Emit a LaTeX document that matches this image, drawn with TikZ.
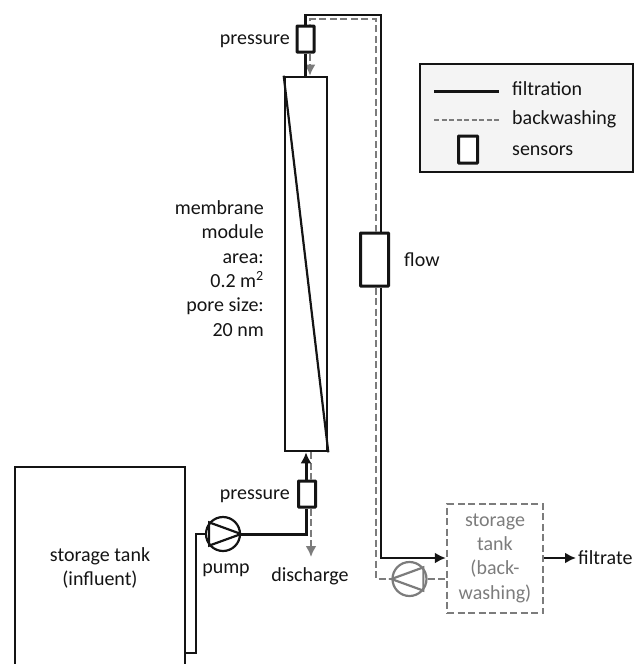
\documentclass[tikz,border=0pt]{standalone}
\usepackage{fontspec}
\setmainfont{Carlito}
\usetikzlibrary{arrows.meta}
\definecolor{washgray}{HTML}{7C7C7C}
\definecolor{legendfill}{HTML}{F4F4F4}
\definecolor{inkblack}{HTML}{141414}
\tikzset{
 lbl/.style={inner sep=0pt,text=inkblack,font=\fontsize{20}{24.4}\selectfont},
 sensor/.style={draw=inkblack,fill=white,line width=3pt,rounded corners=.6pt,inner sep=0pt},
 filt/.style={draw=inkblack,line width=3pt},
 filtthin/.style={draw=inkblack,line width=2.3pt},
 wash/.style={draw=washgray,line width=2.4pt,dash pattern=on 7pt off 3.5pt},
 pumpc/.style={circle,draw,line width=2.2pt,minimum size=34pt,inner sep=0pt},
 tip/.style={-{Latex[length=11pt,width=11pt]}}
}
\begin{document}
\begin{tikzpicture}[x=1pt,y=-1pt,line join=miter]
\useasboundingbox (0,0) rectangle (644,664);
% tanks and module
\draw[inkblack,line width=2.4pt] (15,664)|-(185,467)--(185,664);
\node[lbl,align=center] (tank) at (100,568) {storage tank\\(influent)};
\node[draw=inkblack,line width=2.6pt,minimum width=42pt,minimum height=374pt,inner sep=0pt] (module) at (306,264) {};
\draw[inkblack,line width=2.2pt] (module.north west)--(module.south east);
\node[lbl,align=right,anchor=east] (modtext) at (264,268.5) {membrane\\module\\area:\\0.2 m\textsuperscript{2}\\pore size:\\20 nm};
\node[draw=washgray,line width=2.4pt,dash pattern=on 7pt off 3.5pt,minimum width=96pt,minimum height=109pt,inner sep=0pt] (washtank) at (495,558.5) {};
\node[lbl,text=washgray,align=center] (washtext) at (495,558) {storage\\tank\\(back-\\washing)};
% sensors
\node[sensor,minimum width=17pt,minimum height=26pt] (ptop) at (305.5,39) {};
\node[sensor,minimum width=17pt,minimum height=26pt] (pbot) at (307,494) {};
\node[sensor,minimum width=28pt,minimum height=53pt] (flow) at (374.5,259.5) {};
% pumps
\node[pumpc,draw=inkblack] (pump) at (223,534) {};
\draw[inkblack,line width=2.2pt] (pump.140)--(pump.east)--(pump.220)--cycle;
\node[pumpc,draw=washgray] (pumpw) at (409.5,579) {};
\draw[washgray,line width=2.2pt] (pumpw.40)--(pumpw.west)--(pumpw.-40)--cycle;
% free ends
\coordinate (topin) at (305.5,15);
\coordinate (topout) at (381,15);
\coordinate (washin) at (310,19);
\coordinate (washout) at (376,19);
\coordinate (washlow) at (376,579);
\coordinate (filtlow) at (381,558);
\coordinate (dis) at (311,557);
\coordinate (suck) at (196,534);
\coordinate (tankout) at (185,653);
\coordinate (elbow) at (196,653);
\coordinate (rise) at (306,534);
\coordinate (filtend) at (576,558);
% backwashing
\draw[wash] (flow.north-|washout)--(washout)--(washin)--(ptop.north-|washin);
\draw[wash,tip] (ptop.south-|washin)--(module.north-|washin);
\draw[wash] (flow.south-|washout)--(washlow)--(pumpw.west);
\draw[wash] (pumpw.east)--(washtank.west|-pumpw);
\draw[wash] (module.south-|dis)--(pbot.north-|dis);
\draw[wash,tip] (pbot.south-|dis)--(dis);
% filtration
\draw[filtthin] (ptop.north-|topin)--(topin)--(topout)--(flow.north-|topout);
\draw[filt] (ptop.south)--(module.north-|ptop);
\draw[filtthin,tip] (flow.south-|topout)--(filtlow)--(washtank.west|-filtlow);
\draw[filtthin,tip] (washtank.east|-filtlow)--(filtend);
\draw[filt] (pump.east)--(rise)--(pbot.south-|rise);
\draw[filt,tip] (pbot.north-|rise)--(module.south-|rise);
\draw[inkblack,line width=2.4pt] (pump.west)--(suck)--(elbow)--(tankout);
% labels
\node[lbl,anchor=east] (ptoptext) at (290,41) {pressure};
\node[lbl,anchor=east] (pbottext) at (290,496) {pressure};
\node[lbl] (pumptext) at (226,570) {pump};
\node[lbl] (distext) at (310,576) {discharge};
\node[lbl,anchor=west] (flowtext) at (404,260) {flow};
\node[lbl,anchor=west] (filttext) at (578,558) {filtrate};
% legend
\node[draw=inkblack,fill=legendfill,line width=2.4pt,minimum width=213pt,minimum height=108pt,inner sep=0pt] (legend) at (526.5,118) {};
\node[lbl,anchor=base west] (legf) at (512,95) {filtration};
\node[lbl,anchor=base west] (legw) at (512,124) {backwashing};
\node[lbl,anchor=base west] (legs) at (512,155) {sensors};
\coordinate (lfa) at (434,91);
\coordinate (lfb) at (499,91);
\coordinate (lwa) at (434,120);
\coordinate (lwb) at (499,120);
\draw[filt] (lfa)--(lfb);
\draw[draw=washgray,line width=1.8pt,dash pattern=on 5pt off 2.5pt] (lwa)--(lwb);
\node[sensor,minimum width=19pt,minimum height=27pt] (legsens) at (468,149.5) {};
\end{tikzpicture}
\end{document}
